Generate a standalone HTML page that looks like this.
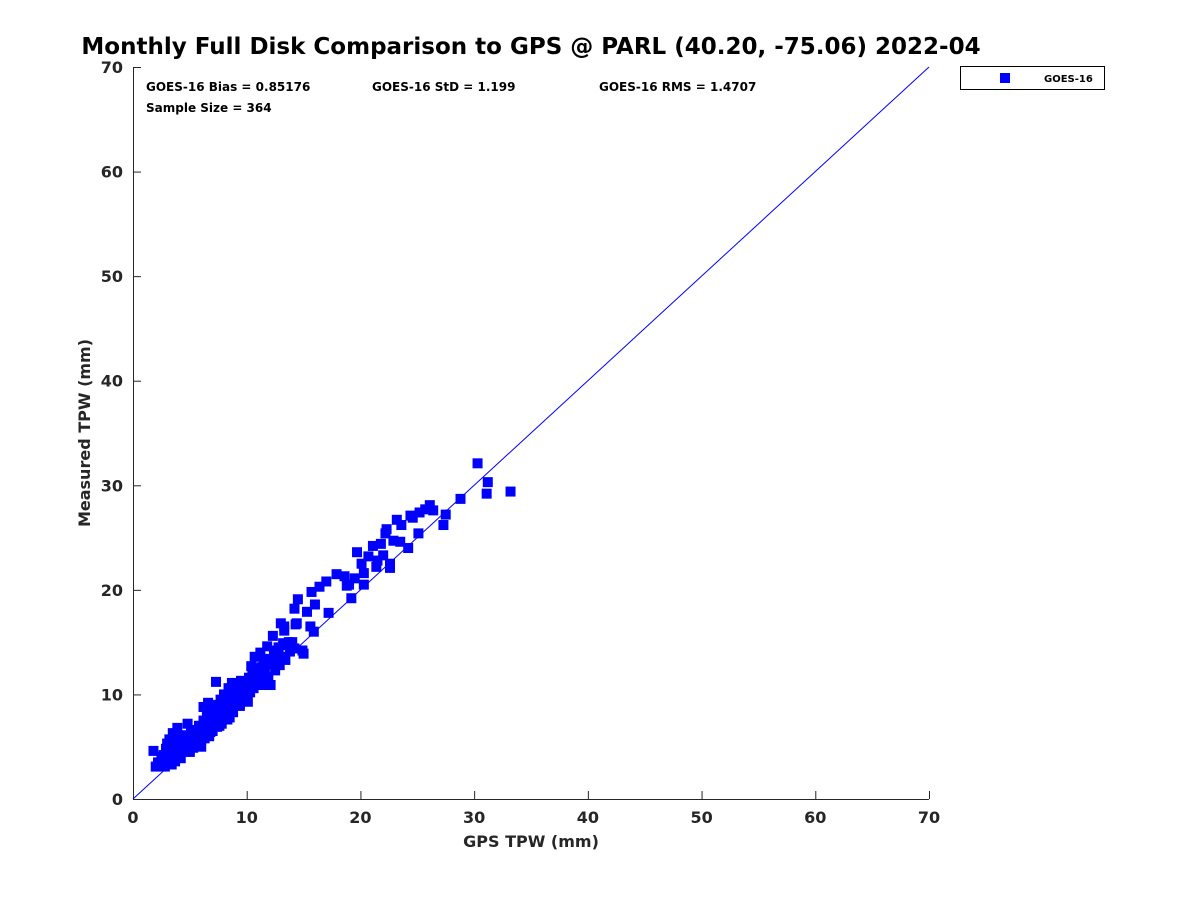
<!DOCTYPE html>
<html><head><meta charset="utf-8"><style>
body{margin:0;background:#fff;font-family:"Liberation Sans","DejaVu Sans",sans-serif}
svg text{font-family:"DejaVu Sans","Liberation Sans",sans-serif}
</style></head><body>
<svg id="chart" width="1200" height="900" viewBox="0 0 1200 900" xmlns="http://www.w3.org/2000/svg">
<rect width="1200" height="900" fill="#fff"/>
<text x="531" y="54" text-anchor="middle" font-size="23" font-weight="bold" fill="#000">Monthly Full Disk Comparison to GPS @ PARL (40.20, -75.06) 2022-04</text>
<g id="axes"></g>
<g id="points"></g>
<text x="146" y="91" font-size="12" font-weight="bold">GOES-16 Bias = 0.85176</text>
<text x="372" y="91" font-size="12" font-weight="bold">GOES-16 StD = 1.199</text>
<text x="599" y="91" font-size="12" font-weight="bold">GOES-16 RMS = 1.4707</text>
<text x="146" y="112" font-size="12" font-weight="bold">Sample Size = 364</text>
<g>
<rect x="960.5" y="66.5" width="144" height="23" fill="#fff" stroke="#000" stroke-width="1"/>
<rect x="1000" y="73" width="10" height="10" fill="#0000ff"/>
<text x="1044" y="82" font-size="10" font-weight="bold">GOES-16</text>
</g>
<text x="531" y="847" text-anchor="middle" font-size="16" font-weight="bold" fill="#262626">GPS TPW (mm)</text>
<text transform="translate(90,433) rotate(-90)" text-anchor="middle" font-size="16" font-weight="bold" fill="#262626">Measured TPW (mm)</text>
</svg>
<script>
const xTicks=[0,10,20,30,40,50,60,70];
const yTicks=[0,10,20,30,40,50,60,70];
const gpsHigh=[30.3,31.2,31.1,33.2,28.8,27.5,27.3,26.4,26.1,25.7,25.2,25.1,24.6,24.4,24.2,23.6,23.5,23.2,22.9,22.6,22.6,22.3,22.2,22.0,21.8,21.5,21.4,21.1,20.7,20.3,20.3,19.7,20.1,19.5,19.2,19.0,18.8,18.6,17.9,17.2,17.0,16.4,16.0,15.9,15.7,15.6,15.3,15.0,14.9,14.5,14.2,14.3,13.3];
const measHigh=[32.1,30.3,29.2,29.4,28.7,27.2,26.2,27.6,28.1,27.7,27.4,25.4,26.9,27.1,24.0,26.2,24.6,26.7,24.7,22.1,22.5,25.8,25.4,23.3,24.4,22.8,22.2,24.2,23.2,21.6,20.5,23.6,22.5,21.1,19.2,20.5,20.4,21.3,21.5,17.8,20.8,20.3,18.6,16.0,19.8,16.5,17.9,13.9,14.2,19.1,18.2,16.7,16.1];
const gpsLow=[1.8,2.0,2.4,2.6,2.7,2.8,2.9,3.0,3.1,3.2,3.3,3.4,3.5,3.6,3.7,3.8,3.9,4.0,4.1,4.2,4.3,4.4,4.5,4.6,4.7,4.8,4.9,5.0,5.1,5.2,5.3,5.4,5.5,5.6,5.7,5.8,5.9,6.0,6.1,6.2,6.3,6.4,6.5,6.5,6.6,6.7,6.8,6.9,7.0,7.1,7.2,7.3,7.3,7.4,7.5,7.6,7.7,7.8,7.9,8.0,8.1,8.2,8.3,8.4,8.5,8.6,8.7,8.8,8.9,9.0,9.1,9.2,9.3,9.4,9.5,9.6,9.7,9.8,9.9,10.0,10.1,10.2,10.3,10.4,10.5,10.6,10.7,10.8,11.0,11.1,11.2,11.3,11.4,11.5,11.6,11.8,11.9,12.0,12.1,12.2,12.3,12.4,12.5,12.6,12.7,12.8,12.9,13.0,13.1,13.2,13.3,13.4,13.5,13.7,13.8,14.0,14.2,14.4,2.2,2.5,3.0,3.3,3.6,4.0,4.4,4.8,5.2,5.6,6.0,6.3,6.6,6.9,7.2,7.5,7.8,8.1,8.4,8.7,9.0,9.3,9.6,9.9,10.2,10.5,10.8,11.1,6.2,7.0,8.0,9.0,5.0,4.2,3.8,6.8,7.6,8.5,9.4,10.1];
const measLow=[4.6,3.1,3.2,3.6,4.2,3.1,4.8,5.3,3.9,5.7,4.4,3.3,6.3,4.9,3.6,5.1,6.8,4.2,5.5,3.9,4.7,5.9,5.0,6.1,4.6,7.2,5.3,4.5,6.4,5.7,4.9,6.0,5.4,6.6,5.1,7.0,6.2,5.0,6.8,7.5,5.8,6.4,8.2,7.1,9.2,6.0,7.7,8.6,6.5,7.3,8.0,11.2,9.0,6.9,7.8,8.4,9.5,7.2,8.8,10.0,8.1,9.2,7.6,10.6,8.9,9.7,11.1,8.3,10.2,9.3,11.0,9.8,10.5,8.9,11.3,10.0,9.4,10.8,11.2,9.9,10.4,11.6,10.2,12.7,11.0,10.6,13.6,11.7,12.2,11.3,14.0,12.6,10.9,13.1,12.4,14.6,11.6,13.4,10.9,12.9,15.6,13.8,12.3,14.2,13.0,14.5,12.8,16.8,13.6,14.9,16.5,13.3,14.7,15.0,14.1,15.0,14.4,16.8,3.5,4.0,4.5,5.0,4.2,5.8,4.8,5.6,6.3,5.8,6.9,7.4,6.7,7.2,7.6,8.6,9.1,9.4,8.7,9.9,10.7,9.6,11.0,10.3,10.9,12.0,12.5,12.0,8.8,8.4,8.6,9.0,5.9,5.2,4.5,6.4,7.0,7.8,9.1,9.3];
const NS='http://www.w3.org/2000/svg';
const X0=133,X1=929,Y0=799,Y1=67;
const sx=v=>X0+(v-0)/70*(X1-X0);
const sy=v=>Y0-(v-0)/70*(Y0-Y1);
function mk(t,a){const e=document.createElementNS(NS,t);for(const k in a)e.setAttribute(k,a[k]);return e;}
const axes=document.getElementById('axes');
const xa=mk('line',{x1:X0,y1:Y0+0.5,x2:X1,y2:Y0+0.5,stroke:'#262626','stroke-width':1});


axes.appendChild(xa);
const ya=mk('line',{x1:X0+0.5,y1:Y0,x2:X0+0.5,y2:Y1,stroke:'#262626','stroke-width':1});


axes.appendChild(ya);
xTicks.forEach(v=>{
 const tk=mk('line',{x1:sx(v)+0.5,y1:Y0,x2:sx(v)+0.5,y2:Y0-8,stroke:'#262626'});
 
 
 axes.appendChild(tk);
 const t=mk('text',{x:sx(v),y:Y0+24,'text-anchor':'middle','font-size':16,'font-weight':'bold',fill:'#262626'});
 t.textContent=v;
 
 
 axes.appendChild(t);
});
yTicks.forEach(v=>{
 const tk=mk('line',{x1:X0,y1:sy(v)+0.5,x2:X0+8,y2:sy(v)+0.5,stroke:'#262626'});
 
 
 axes.appendChild(tk);
 const t=mk('text',{x:X0-10,y:sy(v)+6,'text-anchor':'end','font-size':16,'font-weight':'bold',fill:'#262626'});
 t.textContent=v;
 
 
 axes.appendChild(t);
});
const ref=mk('line',{x1:sx(0),y1:sy(0),x2:sx(70),y2:sy(70),stroke:'#0000ff','stroke-width':1});


axes.appendChild(ref);
const pts=document.getElementById('points');
function plot(xs,ys){xs.forEach((x,i)=>{
 const r=mk('rect',{x:sx(x)-5,y:sy(ys[i])-5,width:10,height:10,fill:'#0000ff'});
 
 
 pts.appendChild(r);
});}
plot(gpsLow,measLow);
plot(gpsHigh,measHigh);
</script>
</body></html>
